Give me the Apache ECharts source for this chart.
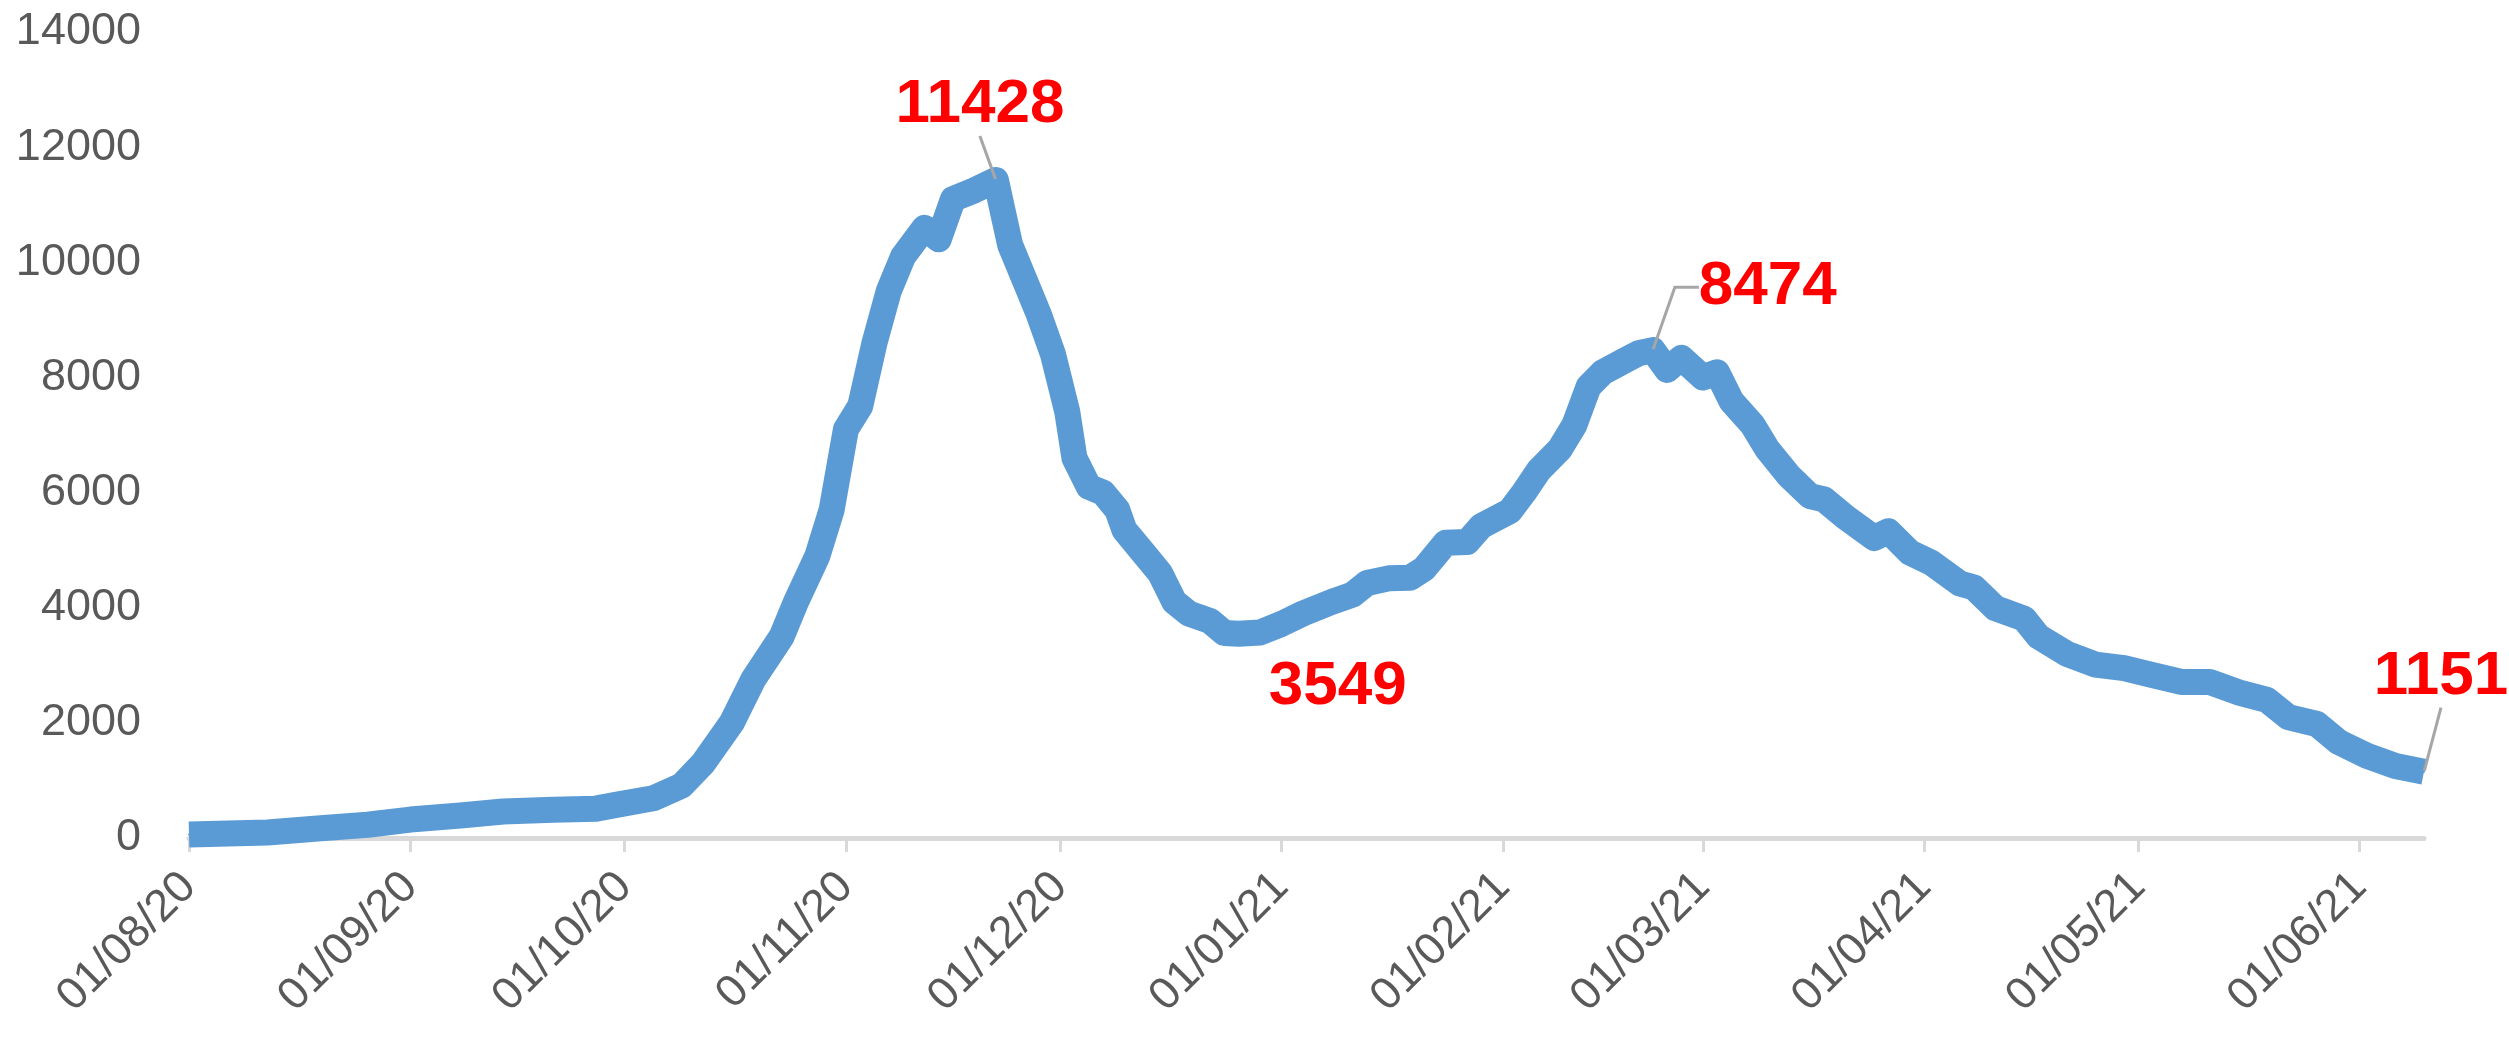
<!DOCTYPE html>
<html>
<head>
<meta charset="utf-8">
<script src="https://cdn.jsdelivr.net/npm/echarts@6/dist/echarts.min.js"></script>
<style>
html,body{margin:0;padding:0;background:#ffffff;}
#chart{width:2509px;height:1040px;}
</style>
</head>
<body>
<div id="chart"></div>
<script>
// ---- data ----
const dates = [
  '2020-08-01','2020-08-12','2020-08-19','2020-08-26','2020-09-01','2020-09-08','2020-09-14','2020-09-21',
  '2020-09-27','2020-09-30','2020-10-05','2020-10-09','2020-10-12','2020-10-16','2020-10-19','2020-10-23',
  '2020-10-25','2020-10-28','2020-10-30','2020-11-01','2020-11-03','2020-11-05','2020-11-07','2020-11-09',
  '2020-11-12','2020-11-14','2020-11-16','2020-11-19','2020-11-22','2020-11-24','2020-11-25','2020-11-28',
  '2020-11-30','2020-12-02','2020-12-03','2020-12-05','2020-12-07','2020-12-09','2020-12-10','2020-12-13',
  '2020-12-15','2020-12-17','2020-12-19','2020-12-22','2020-12-24','2020-12-26','2020-12-29','2021-01-01',
  '2021-01-04','2021-01-08','2021-01-11','2021-01-13','2021-01-16','2021-01-19','2021-01-21','2021-01-24',
  '2021-01-27','2021-01-29','2021-02-02','2021-02-04','2021-02-06','2021-02-09','2021-02-11','2021-02-13',
  '2021-02-15','2021-02-18','2021-02-20','2021-02-22','2021-02-24','2021-02-26','2021-03-01','2021-03-03',
  '2021-03-05','2021-03-08','2021-03-10','2021-03-13','2021-03-16','2021-03-18','2021-03-21','2021-03-25',
  '2021-03-27','2021-03-30','2021-04-02','2021-04-06','2021-04-08','2021-04-11','2021-04-15','2021-04-17',
  '2021-04-21','2021-04-25','2021-04-29','2021-05-03','2021-05-07','2021-05-11','2021-05-15','2021-05-19',
  '2021-05-22','2021-05-26','2021-05-29','2021-06-02','2021-06-06','2021-06-10'
];
const values = [
  60, 95, 165, 230, 320, 390, 460, 490,
  510, 580, 690, 910, 1300, 2000, 2750, 3500,
  4100, 4900, 5700, 7100, 7500, 8600, 9500, 10100,
  10600, 10400, 11100, 11250, 11428, 10300, 10000, 9100,
  8400, 7400, 6600, 6100, 6000, 5700, 5350, 4900,
  4600, 4100, 3900, 3770, 3560, 3549, 3570, 3720,
  3900, 4100, 4230, 4430, 4510, 4520, 4680, 5130,
  5140, 5420, 5680, 6010, 6380, 6760, 7170, 7840,
  8090, 8290, 8420, 8474, 8130, 8340, 8000, 8090,
  7590, 7170, 6760, 6300, 5940, 5880, 5570, 5210,
  5330, 4960, 4780, 4420, 4350, 3990, 3810, 3500,
  3200, 3010, 2950, 2830, 2710, 2710, 2530, 2400,
  2100, 1980, 1670, 1430, 1250, 1151
];
const xMin = '2020-08-01';
const xMax = '2021-06-10';
const yMin = 0, yMax = 14000, yStep = 2000;
// annotated points (dates of the labelled values)
const labelledDates = ['2020-11-22', '2020-12-26', '2021-02-22', '2021-06-10'];

// ---- styling (label placement offsets in px, per annotated point) ----
const labelShift = {
  '2020-11-22': {dx: -16, dy: -75, line: true, len2: 0},
  '2020-12-26': {dx: 99, dy: 53, line: false, len2: 0},
  '2021-02-22': {dx: 115, dy: -63, line: true, len2: 24},
  '2021-06-10': {dx: 17, dy: -95, line: true, len2: 0}
};

const pad = n => (n < 10 ? '0' : '') + n;
const seriesData = dates.map((d, i) => {
  const item = {value: [d, values[i]]};
  if (labelledDates.indexOf(d) >= 0) {
    item.label = {show: true};
    item.labelLine = {show: labelShift[d].line, length2: labelShift[d].len2};
  }
  return item;
});

const chart = echarts.init(document.getElementById('chart'), null, {renderer: 'canvas'});
chart.setOption({
  animation: false,
  backgroundColor: '#ffffff',
  grid: {left: 189, right: 85, top: 32, bottom: 202, containLabel: false, outerBoundsMode: 'none'},
  xAxis: {
    type: 'time',
    min: xMin,
    max: xMax,
    splitNumber: 10,
    minInterval: 28 * 86400000,
    maxInterval: 31 * 86400000,
    axisLine: {show: true, lineStyle: {color: '#D9D9D9', width: 5}},
    axisTick: {show: true, length: 14, lineStyle: {color: '#D9D9D9', width: 3}},
    splitLine: {show: false},
    axisLabel: {
      rotate: 45,
      margin: 42,
      fontSize: 45,
      fontFamily: 'Liberation Sans, Arial, sans-serif',
      color: '#595959',
      showMaxLabel: false,
      formatter: function (val) {
        const d = new Date(val);
        if (d.getDate() !== 1) return '';
        return pad(d.getDate()) + '/' + pad(d.getMonth() + 1) + '/' + String(d.getFullYear()).slice(2);
      }
    }
  },
  yAxis: {
    type: 'value',
    min: yMin,
    max: yMax,
    interval: yStep,
    axisLine: {show: false},
    axisTick: {show: false},
    splitLine: {show: false},
    axisLabel: {
      margin: 48,
      fontSize: 45,
      fontFamily: 'Liberation Sans, Arial, sans-serif',
      color: '#595959',
      formatter: v => String(v)
    }
  },
  series: [{
    type: 'line',
    data: seriesData,
    showSymbol: true,
    showAllSymbol: true,
    symbol: 'circle',
    symbolSize: 2,
    itemStyle: {color: '#5B9BD5'},
    lineStyle: {color: '#5B9BD5', width: 26, join: 'round', cap: 'butt'},
    clip: true,
    label: {
      show: false,
      position: 'inside',
      fontSize: 62,
      fontWeight: 'bold',
      fontFamily: 'Liberation Sans, Arial, sans-serif',
      color: '#FF0000',
      formatter: p => String(p.value[1])
    },
    labelLine: {show: false, lineStyle: {color: '#A6A6A6', width: 3}},
    labelLayout: function (params) {
      const d = dates[params.dataIndex];
      const s = labelShift[d];
      if (!s) return {};
      return {dx: s.dx, dy: s.dy};
    },
    emphasis: {disabled: true}
  }]
});
</script>
</body>
</html>
